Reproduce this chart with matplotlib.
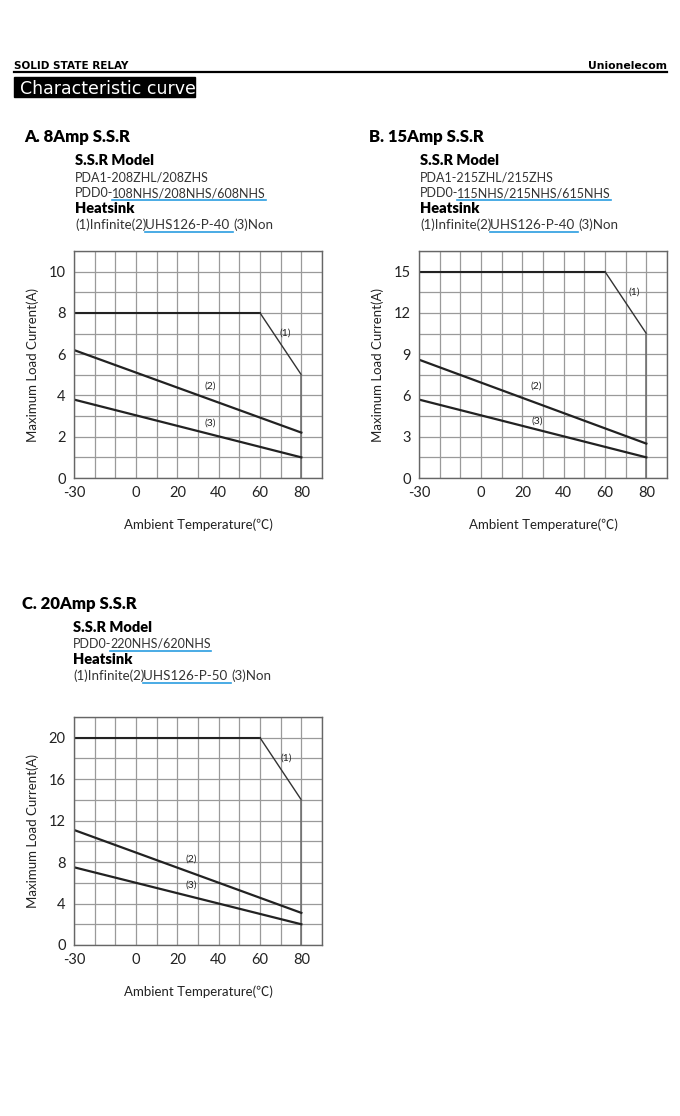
import matplotlib
matplotlib.use("Agg")
import matplotlib.pyplot as plt
from matplotlib.patches import Rectangle

W, H = 680, 1116

# --- data -------------------------------------------------------------
temps_1 = [-30, 60, 80]        # curve (1): infinite heatsink
temps_23 = [-30, 80]           # curves (2) and (3)

a_curve1 = [8, 8, 5]
a_curve2 = [6.2, 2.2]
a_curve3 = [3.8, 1.0]

b_curve1 = [15, 15, 10.5]
b_curve2 = [8.6, 2.5]
b_curve3 = [5.7, 1.5]

c_curve1 = [20, 20, 14]
c_curve2 = [11.1, 3.1]
c_curve3 = [7.5, 2.0]

x_ticks = [-30, 0, 20, 40, 60, 80]
a_yticks = [0, 2, 4, 6, 8, 10]
b_yticks = [0, 3, 6, 9, 12, 15]
c_yticks = [0, 4, 8, 12, 16, 20]

plt.rcParams['font.family'] = ['Lato', 'DejaVu Sans']
plt.rcParams['axes.unicode_minus'] = False

fig = plt.figure(figsize=(W / 100, H / 100), dpi=100)


def fx(x):
    return x / W


def fy(y):
    return 1 - y / H


def txt(x, y, s, **kw):
    return fig.text(fx(x), fy(y), s, va='baseline', **kw)


# --- header -----------------------------------------------------------
txt(14, 69, "SOLID STATE RELAY", fontsize=7.5, fontweight='bold', family='DejaVu Sans')
txt(667, 69, "Unionelecom", fontsize=7.8, fontweight='bold', ha='right', family='DejaVu Sans')
fig.add_artist(plt.Line2D([fx(14), fx(667)], [fy(72), fy(72)], color='black', lw=1.6))
fig.add_artist(Rectangle((fx(14), fy(97)), fx(181), 20 / H, color='black'))
txt(20, 94, "Characteristic curve", fontsize=12.5, color='white',
    family=['Liberation Sans Narrow', 'DejaVu Sans'])

renderer = fig.canvas.get_renderer()
blue = '#2a9de0'
body = '#333333'


def underlined(x, y, prefix, under, suffix="", size=9):
    t = txt(x, y, prefix, fontsize=size, color=body)
    x0 = t.get_window_extent(renderer).x1
    t2 = fig.text((x0 - 1) / W, fy(y), under, va='baseline', fontsize=size, color=body)
    bb = t2.get_window_extent(renderer)
    fig.add_artist(plt.Line2D([bb.x0 / W, bb.x1 / W], [fy(y + 3), fy(y + 3)],
                              color=blue, lw=1.2))
    if suffix:
        fig.text(bb.x1 / W, fy(y), suffix, va='baseline', fontsize=size, color=body)


def header_block(x0, y0, title, model_lines, heatsink):
    txt(x0, y0, title, fontsize=12, fontweight='heavy')
    x1 = x0 + 51
    txt(x1, y0 + 23, "S.S.R Model", fontsize=10.5, fontweight='heavy')
    y = y0 + 39
    for line in model_lines:
        if line.startswith('PDD0'):
            underlined(x1, y, "PDD0-", line[5:])
        else:
            txt(x1, y, line, fontsize=9, color=body)
        y += 16
    txt(x1, y, "Heatsink", fontsize=10.5, fontweight='heavy')
    underlined(x1, y + 16, "(1)Infinite(2)", heatsink + " ", "(3)Non", size=9.6)


header_block(24, 142, "A. 8Amp S.S.R", ["PDA1-208ZHL/208ZHS", "PDD0-108NHS/208NHS/608NHS"], "UHS126-P-40")
header_block(369, 142, "B. 15Amp S.S.R", ["PDA1-215ZHL/215ZHS", "PDD0-115NHS/215NHS/615NHS"], "UHS126-P-40")
header_block(22, 609, "C. 20Amp S.S.R", ["PDD0-220NHS/620NHS"], "UHS126-P-50")


# --- charts -----------------------------------------------------------
def chart(left, top, bottom, c1, c2, c3, yticks, ystep, ymax, labels):
    ax = fig.add_axes([fx(left), fy(bottom), 248 / W, (bottom - top) / H])
    ax.plot(temps_1[:2], c1[:2], color='#222222', lw=1.5)
    ax.plot(temps_1[1:], c1[1:], color='#333333', lw=1.0)
    ax.plot([temps_1[-1], temps_1[-1]], [c1[-1], 0], color='#6a6a6a', lw=1.1)
    ax.plot(temps_23, c2, color='#222222', lw=1.6)
    ax.plot(temps_23, c3, color='#222222', lw=1.6)
    ax.set_xlim(-30, 90)
    ax.set_ylim(0, ymax)
    ax.set_xticks(range(-30, 91, 10), minor=True)
    ax.set_yticks([i * ystep for i in range(int(round(ymax / ystep)) + 1)], minor=True)
    ax.set_xticks(x_ticks)
    ax.set_yticks(yticks)
    ax.grid(True, which='both', color='#9a9a9a', lw=0.9)
    ax.set_axisbelow(True)
    ax.tick_params(which='both', length=0, labelsize=10.5, colors='#222222', pad=6)
    for s in ax.spines.values():
        s.set_color('#666666')
        s.set_linewidth(1.0)
    ax.set_xlabel("Ambient Temperature(℃)", fontsize=9.5, color='#222222', labelpad=13,
                  family=['Lato', 'Noto Sans CJK SC', 'DejaVu Sans'])
    ax.set_ylabel("Maximum Load Current(A)", fontsize=9.5, color='#222222', labelpad=7)
    for lab, (lx, ly) in zip(["(1)", "(2)", "(3)"], labels):
        ax.text(lx, ly, lab, fontsize=7.5, ha='center', va='center', color='#222222')
    return ax


chart(74, 251, 478, a_curve1, a_curve2, a_curve3, a_yticks, 1, 11,
      [(72.4, 7.0), (36, 4.45), (36, 2.65)])
chart(419, 251, 478, b_curve1, b_curve2, b_curve3, b_yticks, 1.5, 16.5,
      [(74, 13.55), (26.5, 6.65), (27, 4.15)])
chart(74, 717, 945, c_curve1, c_curve2, c_curve3, c_yticks, 2, 22,
      [(72.7, 18.0), (26.6, 8.25), (26.6, 5.8)])

fig.savefig("out.png", dpi=100)
